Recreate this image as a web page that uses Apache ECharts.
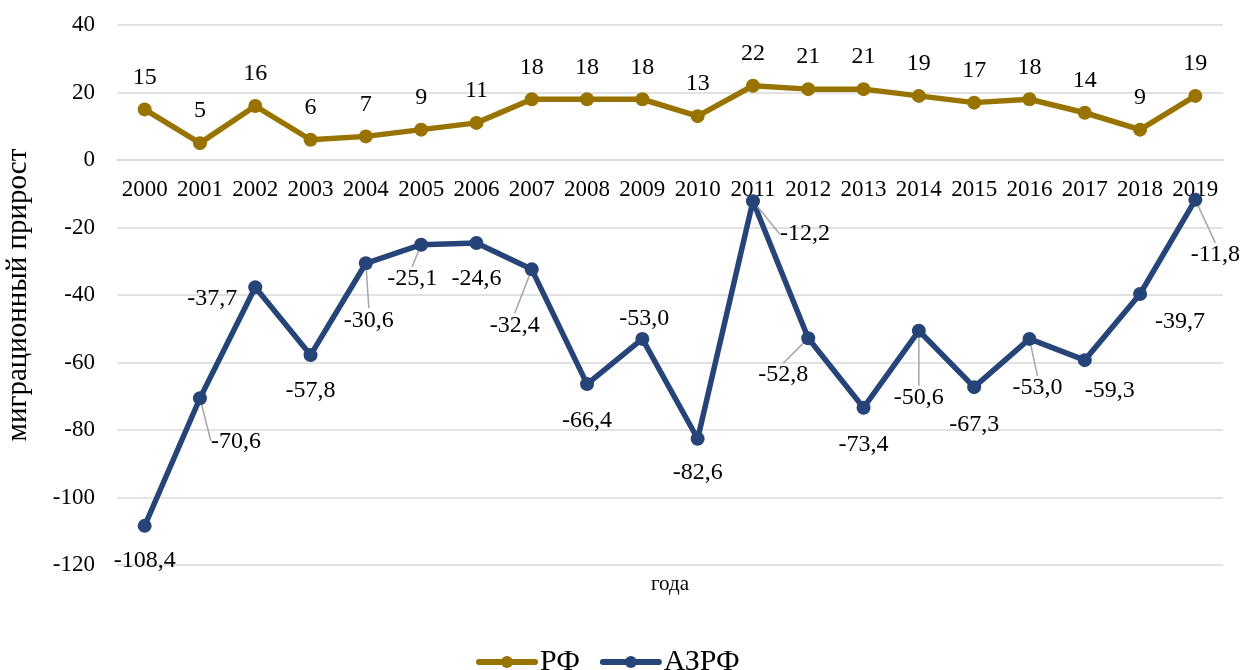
<!DOCTYPE html>
<html>
<head>
<meta charset="utf-8">
<script src="https://cdn.jsdelivr.net/npm/echarts@6/dist/echarts.min.js"></script>
<style>
  html, body { margin: 0; padding: 0; background: #fff; }
  #chart { width: 1245px; height: 670px; }
</style>
</head>
<body>
<div id="chart"></div>
<script>
// Migration growth by year: Russian Federation vs. Arctic zone of the RF
const years = ['2000', '2001', '2002', '2003', '2004', '2005', '2006', '2007', '2008', '2009',
               '2010', '2011', '2012', '2013', '2014', '2015', '2016', '2017', '2018', '2019'];
const rfValues = [15, 5, 16, 6, 7, 9, 11, 18, 18, 18, 13, 22, 21, 21, 19, 17, 18, 14, 9, 19];
const azrfValues = [-108.4, -70.6, -37.7, -57.8, -30.6, -25.1, -24.6, -32.4, -66.4, -53.0,
                    -82.6, -12.2, -52.8, -73.4, -50.6, -67.3, -53.0, -59.3, -39.7, -11.8];
const yTicks = { min: -120, max: 40, step: 20 };

// Where each АЗРФ value label sits relative to its marker, and whether it gets a leader line
const azrfLabelPlacement = [
  [0, 35, false], [36, 43, true], [-43, 11, false], [0, 36, false], [3, 57, true],
  [-9, 34, true], [0, 36, false], [-17, 56, true], [0, 37, false], [2, -20, false],
  [0, 34, false], [52, 33, true], [-25, 37, true], [0, 37, false], [0, 67, true],
  [0, 38, false], [8, 49, true], [25, 31, false], [40, 28, false], [20, 55, true]
];

const FONT = '"Liberation Serif", "Times New Roman", serif';
const RF_COLOR = '#997300';
const AZRF_COLOR = '#264478';
const GRID_COLOR = '#d9d9d9';
const fmtComma = v => v.toFixed(1).replace('.', ',');

// plot box
const GRID_TOP = 25;
const GRID_HEIGHT = 540;
// the category axis sits on the value-axis zero line
const zeroLineShift = -GRID_HEIGHT * (0 - yTicks.min) / (yTicks.max - yTicks.min);

const azrfData = azrfValues.map((v, i) => ({
  value: v,
  labelLine: { show: azrfLabelPlacement[i][2] }
}));

const chart = echarts.init(document.getElementById('chart'), null, { renderer: 'canvas' });
chart.setOption({
  animation: false,
  backgroundColor: '#ffffff',
  textStyle: { fontFamily: FONT, color: '#000' },
  grid: { left: 117, right: 22, top: GRID_TOP, height: GRID_HEIGHT, containLabel: false, outerBoundsMode: 'none' },
  legend: {
    top: 642,
    left: 471,
    itemWidth: 56,
    itemHeight: 15,
    itemGap: 20,
    lineStyle: { width: 6, cap: 'round' },
    textStyle: { fontFamily: FONT, fontSize: 30, color: '#000' },
    data: ['РФ', 'АЗРФ']
  },
  xAxis: {
    type: 'category',
    data: years,
    boundaryGap: true,
    position: 'bottom',
    offset: zeroLineShift,
    axisLine: { show: true, onZero: false, lineStyle: { color: GRID_COLOR, width: 1.5 } },
    axisTick: { show: false },
    axisLabel: { fontFamily: FONT, fontSize: 23, color: '#000', margin: 18, interval: 0 },
    name: 'года',
    nameLocation: 'middle',
    nameGap: 414,
    nameTextStyle: { fontFamily: FONT, fontSize: 21, color: '#000' }
  },
  yAxis: {
    type: 'value',
    min: yTicks.min,
    max: yTicks.max,
    interval: yTicks.step,
    axisLine: { show: false },
    axisTick: { show: false },
    axisLabel: { fontFamily: FONT, fontSize: 23, color: '#000', margin: 22 },
    splitLine: { lineStyle: { color: GRID_COLOR, width: 1.5 } },
    name: 'миграционный прирост',
    nameLocation: 'middle',
    nameGap: 84,
    nameTextStyle: { fontFamily: FONT, fontSize: 29, color: '#000' }
  },
  series: [
    {
      name: 'РФ',
      type: 'line',
      data: rfValues,
      color: RF_COLOR,
      symbol: 'circle',
      symbolSize: 14,
      lineStyle: { width: 5.5, color: RF_COLOR },
      itemStyle: { color: RF_COLOR },
      label: {
        show: true,
        position: 'top',
        distance: 13,
        fontFamily: FONT,
        fontSize: 24,
        color: '#000'
      },
      z: 3
    },
    {
      name: 'АЗРФ',
      type: 'line',
      data: azrfData,
      color: AZRF_COLOR,
      symbol: 'circle',
      symbolSize: 14,
      lineStyle: { width: 5.5, color: AZRF_COLOR },
      itemStyle: { color: AZRF_COLOR },
      label: {
        show: true,
        position: 'inside',
        fontFamily: FONT,
        fontSize: 24,
        color: '#000',
        formatter: p => fmtComma(p.value)
      },
      labelLayout: p => ({
        dx: azrfLabelPlacement[p.dataIndex][0],
        dy: azrfLabelPlacement[p.dataIndex][1]
      }),
      labelLine: { lineStyle: { color: '#a6a6a6', width: 1.5 } },
      z: 3
    }
  ]
});
</script>
</body>
</html>
